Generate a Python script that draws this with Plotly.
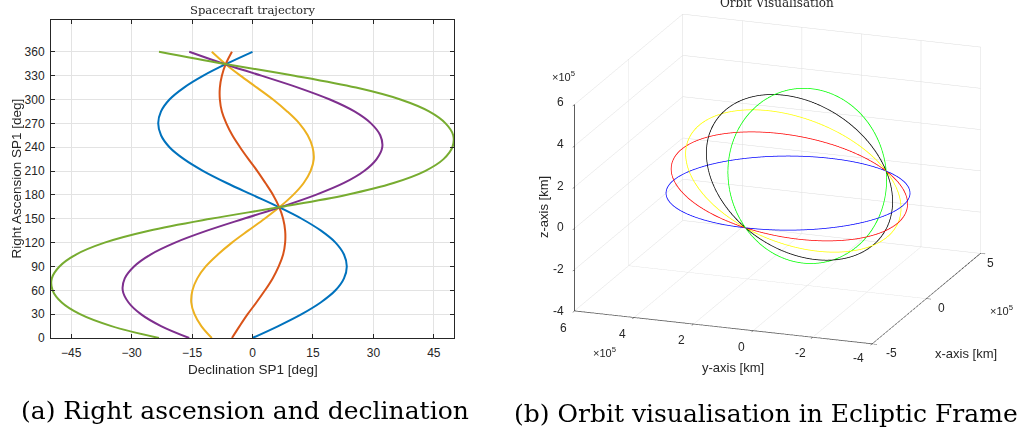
import numpy as np
import plotly.graph_objects as go

# ---------------- data: left panel (declination vs right ascension) ----------------
ra_deg = list(range(0, 361, 15))
dec_orbit1 = [0, 6.4, 12.2, 17.0, 20.6, 22.7, 23.4, 22.7, 20.6, 17.0, 12.2, 6.4, 0,
              -6.4, -12.2, -17.0, -20.6, -22.7, -23.4, -22.7, -20.6, -17.0, -12.2, -6.4, 0]
dec_orbit2 = [-5.1, -3.2, -1.2, 1.0, 3.1, 5.0, 6.5, 7.6, 8.1, 8.1, 7.6, 6.6, 5.1,
              3.2, 1.2, -1.0, -3.1, -5.0, -6.5, -7.6, -8.1, -8.1, -7.6, -6.6, -5.1]
dec_orbit3 = [-10.1, -12.7, -14.4, -15.2, -14.9, -13.7, -11.6, -8.6, -5.1, -1.1, 3.0, 6.8, 10.1,
              12.7, 14.4, 15.2, 14.9, 13.7, 11.6, 8.6, 5.1, 1.1, -3.0, -6.8, -10.1]
dec_orbit4 = [-15.7, -22.7, -27.7, -30.8, -32.2, -31.7, -29.4, -25.3, -19.2, -11.3, -2.2, 7.2, 15.7,
              22.7, 27.7, 30.8, 32.2, 31.7, 29.4, 25.3, 19.2, 11.3, 2.2, -7.2, -15.7]
dec_orbit5 = [-23.2, -35.0, -42.8, -47.4, -49.6, -49.8, -47.9, -43.8, -36.7, -25.7, -10.4, 7.2, 23.2,
              35.0, 42.8, 47.4, 49.6, 49.8, 47.9, 43.8, 36.7, 25.7, 10.4, -7.2, -23.2]
dec_series = [dec_orbit1, dec_orbit2, dec_orbit3, dec_orbit4, dec_orbit5]
left_colors = ["#0072BD", "#D95319", "#EDB120", "#7E2F8E", "#77AC30"]
dec_ticks = [-45, -30, -15, 0, 15, 30, 45]
ra_ticks = list(range(0, 361, 30))

# ---------------- data: right panel (orbits in ecliptic frame) ----------------
orbit_colors = ["#0000FF", "#FF0000", "#FFFF00", "#000000", "#00FF00"]
orbit_tilt_deg = [0, -18, -36, -54, -72]      # rotation of orbit plane about node line
node_longitude_deg = 163.0
orbit_radius_km = 3.85e5
center_along_node_km = -0.45e5
center_normal_km = -1.10e5
x_ticks = [-5e5, 0, 5e5]
x_ticktext = ["-5", "0", "5"]
yz_ticks = [-4e5, -2e5, 0, 2e5, 4e5, 6e5]
yz_ticktext = ["-4", "-2", "0", "2", "4", "6"]

W, H = 1017, 439
H_EFF = 432.0   # vertical extent the page is photographed at
def px(x):
    return x / W
def py(y):
    return 1 - y / H_EFF

fig = go.Figure()

for dec, col in zip(dec_series, left_colors):
    fig.add_trace(go.Scatter(x=dec, y=ra_deg, mode="lines",
                             line=dict(color=col, width=2, shape="spline", smoothing=1.0),
                             showlegend=False, hoverinfo="skip"))

lam = np.radians(node_longitude_deg)
n_vec = np.array([np.cos(lam), np.sin(lam), 0.0])
m0_vec = np.array([-np.sin(lam), np.cos(lam), 0.0])
ez = np.array([0.0, 0.0, 1.0])
t = np.linspace(0, 2 * np.pi, 361)
for tilt, col in zip(orbit_tilt_deg, orbit_colors):
    th = np.radians(tilt)
    m_vec = np.cos(th) * m0_vec + np.sin(th) * ez
    c = center_along_node_km * n_vec + center_normal_km * m_vec
    pts = c[:, None] + orbit_radius_km * (np.outer(n_vec, np.cos(t)) + np.outer(m_vec, np.sin(t)))
    fig.add_trace(go.Scatter3d(x=pts[0], y=pts[1], z=pts[2], mode="lines",
                               line=dict(color=col, width=1.5), showlegend=False,
                               hoverinfo="skip", scene="scene"))

ink = "#262626"
sans = "Liberation Sans, Arial, sans-serif"
serif = "DejaVu Serif, serif"
tickfont = dict(family=sans, size=12, color=ink)
fig.update_xaxes(domain=[px(51), px(454)], range=[-50, 50], tickvals=dec_ticks,
                 ticks="inside", ticklen=4, tickcolor=ink, mirror="ticks",
                 showline=True, linecolor=ink, linewidth=1, showgrid=True,
                 gridcolor="#e3e3e3", zeroline=False, tickfont=tickfont,
                 ticklabelstandoff=4)
fig.update_yaxes(domain=[py(338), py(20)], range=[0, 400], tickvals=ra_ticks,
                 ticks="inside", ticklen=4, tickcolor=ink, mirror="ticks",
                 showline=True, linecolor=ink, linewidth=1, showgrid=True,
                 gridcolor="#e3e3e3", zeroline=False, tickfont=tickfont,
                 ticklabelstandoff=3)

ax3 = dict(showbackground=False, gridcolor="#dcdcdc", gridwidth=1, showline=True,
           linecolor=ink, linewidth=1.5, ticks="outside", ticklen=5, tickcolor=ink,
           showticklabels=False, showspikes=False, zeroline=False,
           title=dict(text=""), autorange=False)
d = np.array([-0.896, -0.326, 0.304])
eye = 3.0 * d
fig.update_layout(
    width=W, height=H, margin=dict(l=0, r=0, t=0, b=0),
    paper_bgcolor="white", plot_bgcolor="white",
    scene=dict(
        domain=dict(x=[px(560), px(995)], y=[py(358), py(0)]),
        xaxis=dict(ax3, range=[-5e5, 5e5], tickvals=x_ticks),
        yaxis=dict(ax3, range=[-4e5, 6e5], tickvals=yz_ticks),
        zaxis=dict(ax3, range=[-4e5, 6e5], tickvals=yz_ticks),
        aspectmode="manual", aspectratio=dict(x=1.77, y=1.77, z=1.21),
        camera=dict(eye=dict(x=eye[0], y=eye[1], z=eye[2]), up=dict(x=0, y=0, z=1),
                    center=dict(x=0, y=0, z=0), projection=dict(type="orthographic")),
        bgcolor="white",
    ),
)

ann = [
    dict(text="Spacecraft trajectory", x=px(252.5), y=py(10), font=dict(family=serif, size=11.6, color=ink)),
    dict(text="Declination SP1 [deg]", x=px(252.5), y=py(369), font=dict(family=sans, size=13.5, color=ink)),
    dict(text="Right Ascension SP1 [deg]", x=px(15.5), y=py(179), textangle=-90, font=dict(family=sans, size=13.5, color=ink)),
    dict(text="Orbit Visualisation", x=px(777), y=py(3), font=dict(family=serif, size=12, color=ink)),
    dict(text="x-axis [km]", x=px(965.5), y=py(353), font=dict(family=sans, size=13, color=ink)),
    dict(text="y-axis [km]", x=px(732.5), y=py(367), font=dict(family=sans, size=13, color=ink)),
    dict(text="z-axis [km]", x=px(543), y=py(207), textangle=-90, font=dict(family=sans, size=13, color=ink)),
    dict(text="×10<sup>5</sup>", x=px(563), y=py(76), font=dict(family=sans, size=11, color=ink)),
    dict(text="×10<sup>5</sup>", x=px(604), y=py(352), font=dict(family=sans, size=11, color=ink)),
    dict(text="×10<sup>5</sup>", x=px(1001), y=py(310), font=dict(family=sans, size=11, color=ink)),
    dict(text="(a) Right ascension and declination", x=px(245), y=py(410), font=dict(family=serif, size=25, color="black")),
    dict(text="(b) Orbit visualisation in Ecliptic Frame", x=px(512), y=py(413), xanchor="left", font=dict(family=serif, size=25, color="black")),
]

# 3D tick labels placed beside the projected tick marks
z_label_pos = [(566, 311), (566, 269), (566, 227.3), (566, 185.7), (566, 144), (566, 101.7)]
y_label_pos = [(858.3, 358.3), (800, 352.7), (741.7, 346.7), (681.7, 340), (622.7, 334), (563.3, 328.3)]
x_label_pos = [(891.7, 353.3), (941.7, 308.3), (990, 263.3)]
for txt, (xx, yy) in zip(yz_ticktext, z_label_pos):
    ann.append(dict(text=txt, x=px(xx), y=py(yy), xanchor="right", font=tickfont))
for txt, (xx, yy) in zip(yz_ticktext, y_label_pos):
    ann.append(dict(text=txt, x=px(xx), y=py(yy), font=tickfont))
for txt, (xx, yy) in zip(x_ticktext, x_label_pos):
    ann.append(dict(text=txt, x=px(xx), y=py(yy), font=tickfont))

for a in ann:
    a.setdefault("xanchor", "center")
    a.update(xref="paper", yref="paper", yanchor="middle", showarrow=False)
fig.update_layout(annotations=ann)

fig.write_html("out.html", config={"displayModeBar": False})
